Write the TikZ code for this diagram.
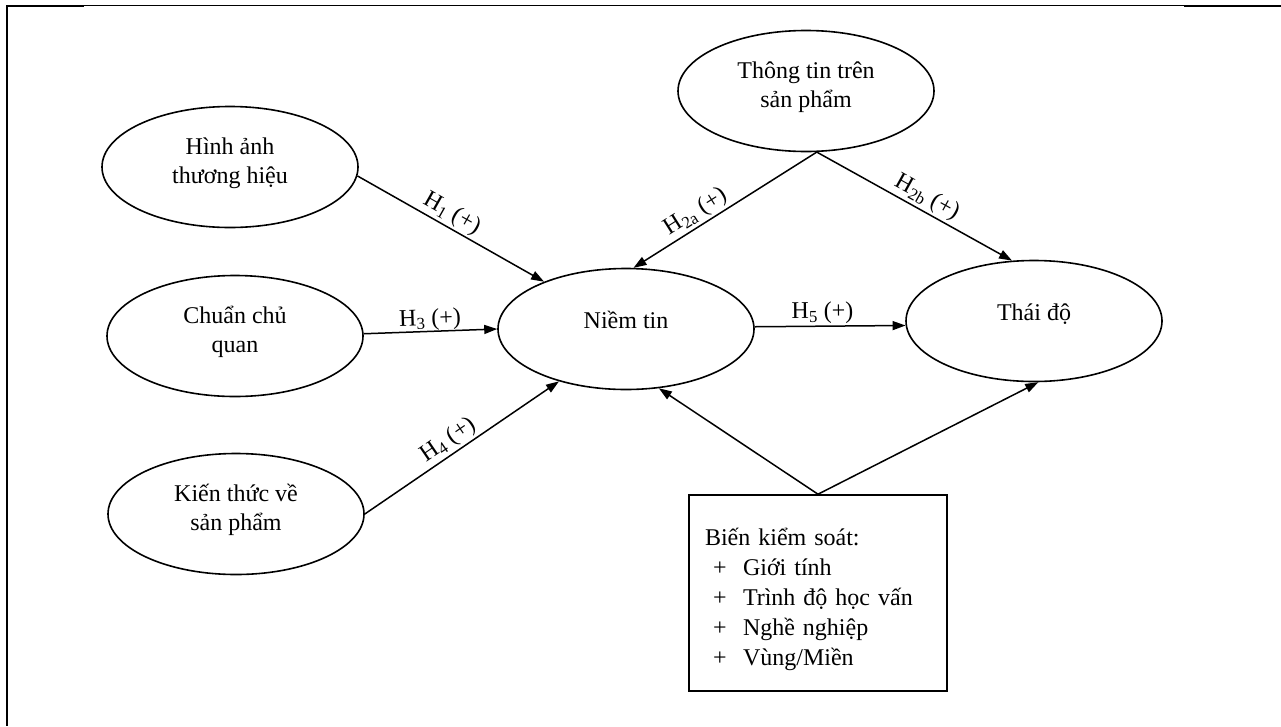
\documentclass[tikz,border=0pt]{standalone}
\usepackage{fontspec}
\setmainfont{Liberation Serif}
\usetikzlibrary{shapes.geometric,arrows.meta}
\newcommand\twolines[2]{\raisebox{-16pt}[0pt][0pt]{\begin{tabular}[b]{@{}c@{}}#1\\#2\end{tabular}}}
\newcommand\oneline[1]{\raisebox{1pt}[0pt][0pt]{#1}}
\newcommand\plusitem[1]{\makebox[38pt][l]{\hspace*{8pt}+}#1}
\begin{document}
\begin{tikzpicture}[x=1pt,y=-1pt,
  every node/.style={font=\fontsize{24}{29}\selectfont},
  construct/.style={ellipse,draw,line width=1.6pt,minimum width=256pt,minimum height=121pt,inner sep=0pt},
  ctrlbox/.style={rectangle,draw,line width=1.6pt,minimum width=258pt,minimum height=196pt,text width=226pt,inner xsep=16pt,inner ysep=0pt,align=left,font=\fontsize{24}{30}\selectfont},
  link/.style={line width=1.5pt,-{Triangle[length=13pt,width=9pt]}},
  hyp/.style={above,sloped,inner sep=2pt,font=\fontsize{24}{28}\selectfont},
  frameline/.style={line width=1pt},
  framethick/.style={line width=2pt}]
\useasboundingbox (0,0) rectangle (1281,726);
% frame
\draw[frameline] (6,5.5) -- (1281,5.5);
\draw[framethick] (6,6) -- (84,6);
\draw[framethick] (1184,6) -- (1281,6);
\draw[framethick] (7,5) -- (7,726);
% constructs
\node[construct] (ha) at (230,167) {\twolines{Hình ảnh}{thương hiệu}};
\node[construct] (cq) at (235,336) {\twolines{Chuẩn chủ}{quan}};
\node[construct] (kt) at (236,514) {\twolines{Kiến thức về}{sản phẩm}};
\node[construct] (nt) at (626,329) {\oneline{Niềm tin}};
\node[construct] (tt) at (806,91) {\twolines{Thông tin trên}{sản phẩm}};
\node[construct] (td) at (1034,321) {\oneline{Thái độ}};
\node[ctrlbox] (bx) at (818,593) {\rule{0pt}{30pt}Biến kiểm soát:\\
  \plusitem{Giới tính}\\
  \plusitem{Trình độ học vấn}\\
  \plusitem{Nghề nghiệp}\\
  \plusitem{Vùng/Miền}};
% connectors
\draw[link] (ha.-4) -- (nt.150) node[hyp,pos=.47] {H\textsubscript{1} (+)};
\draw[link] (cq.1) -- (nt.west) node[hyp,pos=.5,inner sep=0pt] {H\textsubscript{3} (+)};
\draw[link] (kt.east) -- (nt.218) node[hyp,pos=.47] {H\textsubscript{4} (+)};
\draw[link] (tt.-80) -- (nt.83) node[hyp,pos=.62] {H\textsubscript{2a} (+)};
\draw[link] (tt.-80) -- (td.110) node[hyp,pos=.53] {H\textsubscript{2b} (+)};
\draw[link] (nt.1) -- (td.182) node[hyp,pos=.45] {H\textsubscript{5} (+)};
\draw[link] (bx.north) -- (nt.-61);
\draw[link] (bx.north) -- (td.-86);
\end{tikzpicture}
\end{document}
